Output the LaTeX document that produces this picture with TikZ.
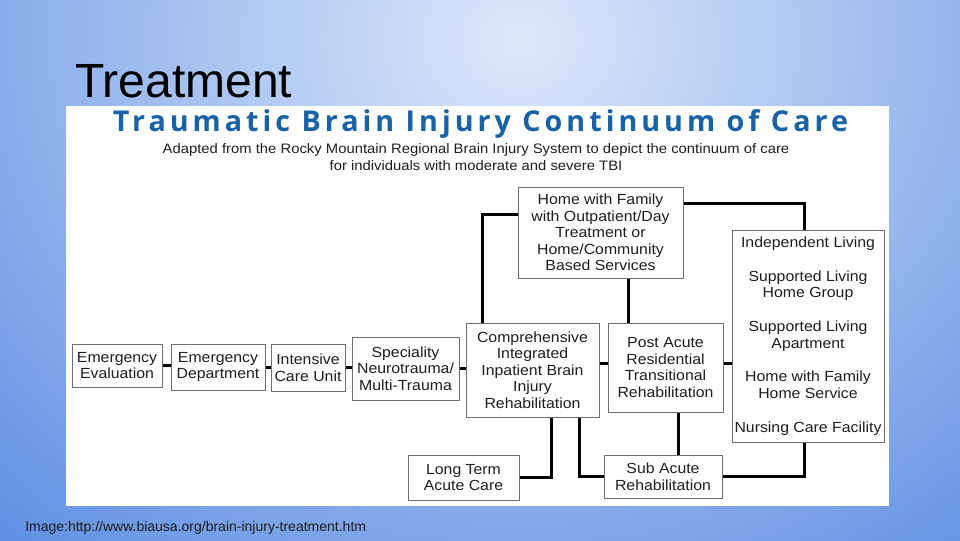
\documentclass[tikz,border=0pt]{standalone}
\usepackage{fontspec}
\setmainfont{Liberation Sans}
\newfontfamily\titlefont[LetterSpace=14]{Open Sans}
\newfontfamily\boxfont[FakeStretch=1.08]{Liberation Sans}
\usetikzlibrary{calc}
\definecolor{bgout}{RGB}{98,146,228}
\definecolor{bgin}{RGB}{222,232,250}
\definecolor{titleblue}{RGB}{24,98,168}
\definecolor{boxline}{RGB}{110,110,110}
\definecolor{txt}{RGB}{30,30,30}
\begin{document}
\begin{tikzpicture}[x=0.75pt,y=-0.75pt,
  box/.style={draw=boxline, line width=0.75pt, fill=white, align=center, inner sep=0pt,
    text=txt, font=\boxfont\fontsize{11pt}{12.4pt}\selectfont},
  sz/.style 2 args={minimum width=#1*0.75pt, minimum height=#2*0.75pt},
  conn/.style={line width=2.25pt, black}]
\useasboundingbox (0,0) rectangle (960,540);
\clip (0,0) rectangle (960,540);
% background
\fill[bgout] (0,0) rectangle (960,540);
\shade[inner color=bgin, outer color=bgout] (-230,-620) rectangle (1270,700);
% slide title
\node[anchor=base west, inner sep=0pt, font=\fontsize{36pt}{40pt}\selectfont, text=black] (slidetitle) at (75,97) {Treatment};
% white panel
\fill[white] (66,106) rectangle (889,506);
% diagram title
\node[anchor=base, inner sep=0pt, text=titleblue, font=\titlefont\bfseries\fontsize{21.5pt}{23pt}\selectfont] (dtitle) at (480.5,131) {Traumatic Brain Injury Continuum of Care};
\node[anchor=base, inner sep=0pt, text=txt, font=\boxfont\fontsize{10.3pt}{12pt}\selectfont] (sub1) at (476,153) {Adapted from the Rocky Mountain Regional Brain Injury System to depict the continuum of care};
\node[anchor=base, inner sep=0pt, text=txt, font=\boxfont\fontsize{10.3pt}{12pt}\selectfont] (sub2) at (476,170) {for individuals with moderate and severe TBI};
% boxes
\node[box, sz={90}{43}] (ee) at (117,365.5) {Emergency\\Evaluation};
\node[box, sz={94}{46}] (ed) at (218,367) {Emergency\\Department};
\node[box, sz={74}{47}] (icu) at (308,367.5) {Intensive\\Care Unit};
\node[box, sz={107}{63}] (spec) at (405.5,368.5) {Speciality\\Neurotrauma/\\Multi-Trauma};
\node[box, sz={133}{94}] (comp) at (532.5,370) {Comprehensive\\Integrated\\Inpatient Brain\\Injury\\Rehabilitation};
\node[box, sz={115}{89}] (post) at (665.5,367.5) {Post Acute\\Residential\\Transitional\\Rehabilitation};
\node[box, sz={152}{212}] (right) at (808,336) {Independent Living\\[13pt]Supported Living\\Home Group\\[13pt]Supported Living\\Apartment\\[13pt]Home with Family\\Home Service\\[13pt]Nursing Care Facility};
\node[box, sz={165}{91}] (home) at (600.5,232.5) {Home with Family\\with Outpatient/Day\\Treatment or\\Home/Community\\Based Services};
\node[box, sz={111}{45}] (lt) at (463.5,477.5) {Long Term\\Acute Care};
\node[box, sz={118}{43}] (sub) at (663,476.5) {Sub Acute\\Rehabilitation};
% connectors
\draw[conn] (ee.east) -- (ee.east -| ed.west);
\draw[conn] (ed.east) -- (ed.east -| icu.west);
\draw[conn] (icu.east) -- (icu.east -| spec.west);
\draw[conn] (spec.east) -- (spec.east -| comp.west);
\draw[conn] ([yshift=3pt]post.west) -- ([yshift=3pt]post.west -| comp.east);
\draw[conn] ([yshift=3pt]post.east) -- ([yshift=3pt]post.east -| right.west);
\coordinate (hl) at ($(home.north west)!0.3!(home.south west)$);
\coordinate (ct) at ($(comp.north west)!0.13!(comp.north east)$);
\draw[conn] (hl) -| (ct);
\coordinate (hb) at ($(home.south west)!0.67!(home.south east)$);
\draw[conn] (hb) -- (hb |- post.north);
\coordinate (hr) at ($(home.north east)!0.18!(home.south east)$);
\coordinate (rt) at ($(right.north west)!0.48!(right.north east)$);
\draw[conn] (hr) -| (rt);
\coordinate (cb1) at ($(comp.south west)!0.64!(comp.south east)$);
\draw[conn] (cb1) |- (lt.east);
\coordinate (cb2) at ($(comp.south west)!0.85!(comp.south east)$);
\draw[conn] (cb2) |- (sub.west);
\coordinate (pb) at ($(post.south west)!0.61!(post.south east)$);
\draw[conn] (pb) -- (pb |- sub.north);
\coordinate (rb) at ($(right.south west)!0.48!(right.south east)$);
\draw[conn] (rb) |- (sub.east);
% footer
\node[anchor=base west, inner sep=0pt, text=txt, font=\fontsize{10.5pt}{12pt}\selectfont] (footer) at (25,531) {Image:http://www.biausa.org/brain-injury-treatment.htm};
\end{tikzpicture}
\end{document}
